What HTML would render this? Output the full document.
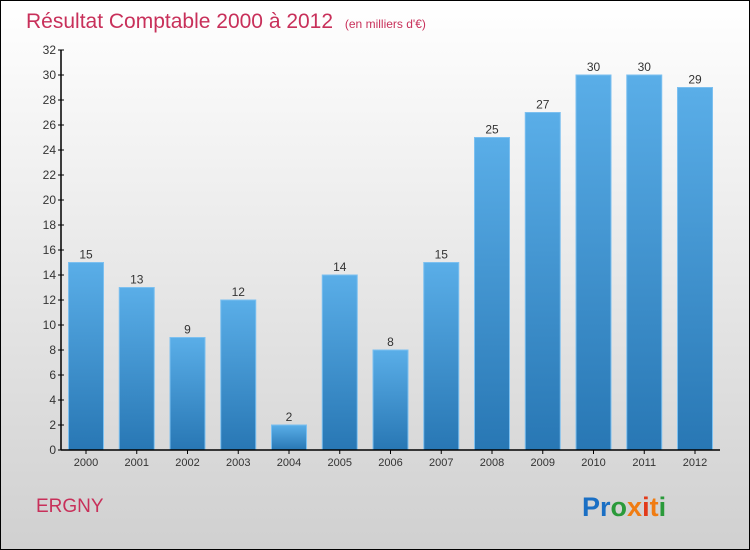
<!DOCTYPE html>
<html><head><meta charset="utf-8"><style>
body{margin:0;width:750px;height:550px;overflow:hidden}
svg{display:block;font-family:"Liberation Sans",sans-serif}
</style></head><body>
<svg width="750" height="550">
<defs>
<linearGradient id="bg" x1="0" y1="0" x2="0" y2="1"><stop offset="0" stop-color="#ffffff"/><stop offset="1" stop-color="#d0d0d0"/></linearGradient>
<linearGradient id="bar" x1="0" y1="0" x2="0" y2="1"><stop offset="0" stop-color="#5aaee8"/><stop offset="1" stop-color="#2877b4"/></linearGradient>
</defs>
<rect x="0.5" y="0.5" width="749" height="549" fill="url(#bg)" stroke="#000"/>
<text x="26" y="28" font-size="21" fill="#c8305a">Résultat Comptable 2000 à 2012 <tspan font-size="12" dx="6">(en milliers d'€)</tspan></text>
<g id="plot"></g>
<text x="36" y="512" font-size="19" fill="#c8305a">ERGNY</text>
<text x="582" y="516" font-size="27" font-weight="bold"><tspan fill="#1a6fc4">Pr</tspan><tspan fill="#2a9a3a">o</tspan><tspan fill="#f07c12">x</tspan><tspan fill="#e23a1a">i</tspan><tspan fill="#f07c12">t</tspan><tspan fill="#2a9a3a">i</tspan></text>
</svg>
<script>
const years=["2000","2001","2002","2003","2004","2005","2006","2007","2008","2009","2010","2011","2012"];
const values=[15,13,9,12,2,14,8,15,25,27,30,30,29];
const yTicks=[0,2,4,6,8,10,12,14,16,18,20,22,24,26,28,30,32];
const NS="http://www.w3.org/2000/svg";
const g=document.getElementById('plot');
const y0=450,yTop=50,yMax=32,x0=61,step=50.75,first=86,bw=35;
const Y=v=>y0-(v/yMax)*(y0-yTop);
const X=i=>first+i*step;
function mk(t,a){const e=document.createElementNS(NS,t);for(const k in a)e.setAttribute(k,a[k]);g.appendChild(e);return e;}
values.forEach((v,i)=>{
 const r=mk('rect',{x:X(i)-bw/2,y:Y(v),width:bw,height:y0-Y(v),fill:'url(#bar)',stroke:'#7cc0f0','stroke-width':1});
 
 
 const t=mk('text',{x:X(i),y:Y(v)-4,'text-anchor':'middle','font-size':12,fill:'#333'});
 t.textContent=v;
 
 
 const tk=mk('line',{x1:X(i),x2:X(i),y1:y0,y2:y0+4,stroke:'#000'});
 
 
 const l=mk('text',{x:X(i),y:y0+16,'text-anchor':'middle','font-size':11,fill:'#333'});
 l.textContent=years[i];
 
 
});
yTicks.forEach(v=>{
 const tk=mk('line',{x1:x0-3,x2:x0+3,y1:Y(v),y2:Y(v),stroke:'#000'});
 
 
 const l=mk('text',{x:x0-5,y:Y(v)+4,'text-anchor':'end','font-size':12,fill:'#333'});
 l.textContent=v;
 
 
});
const ya=mk('line',{x1:x0,x2:x0,y1:yTop,y2:y0,stroke:'#000','stroke-width':1.5});


const xa=mk('line',{x1:x0,x2:720,y1:y0,y2:y0,stroke:'#000','stroke-width':1.5});


</script>
</body></html>
